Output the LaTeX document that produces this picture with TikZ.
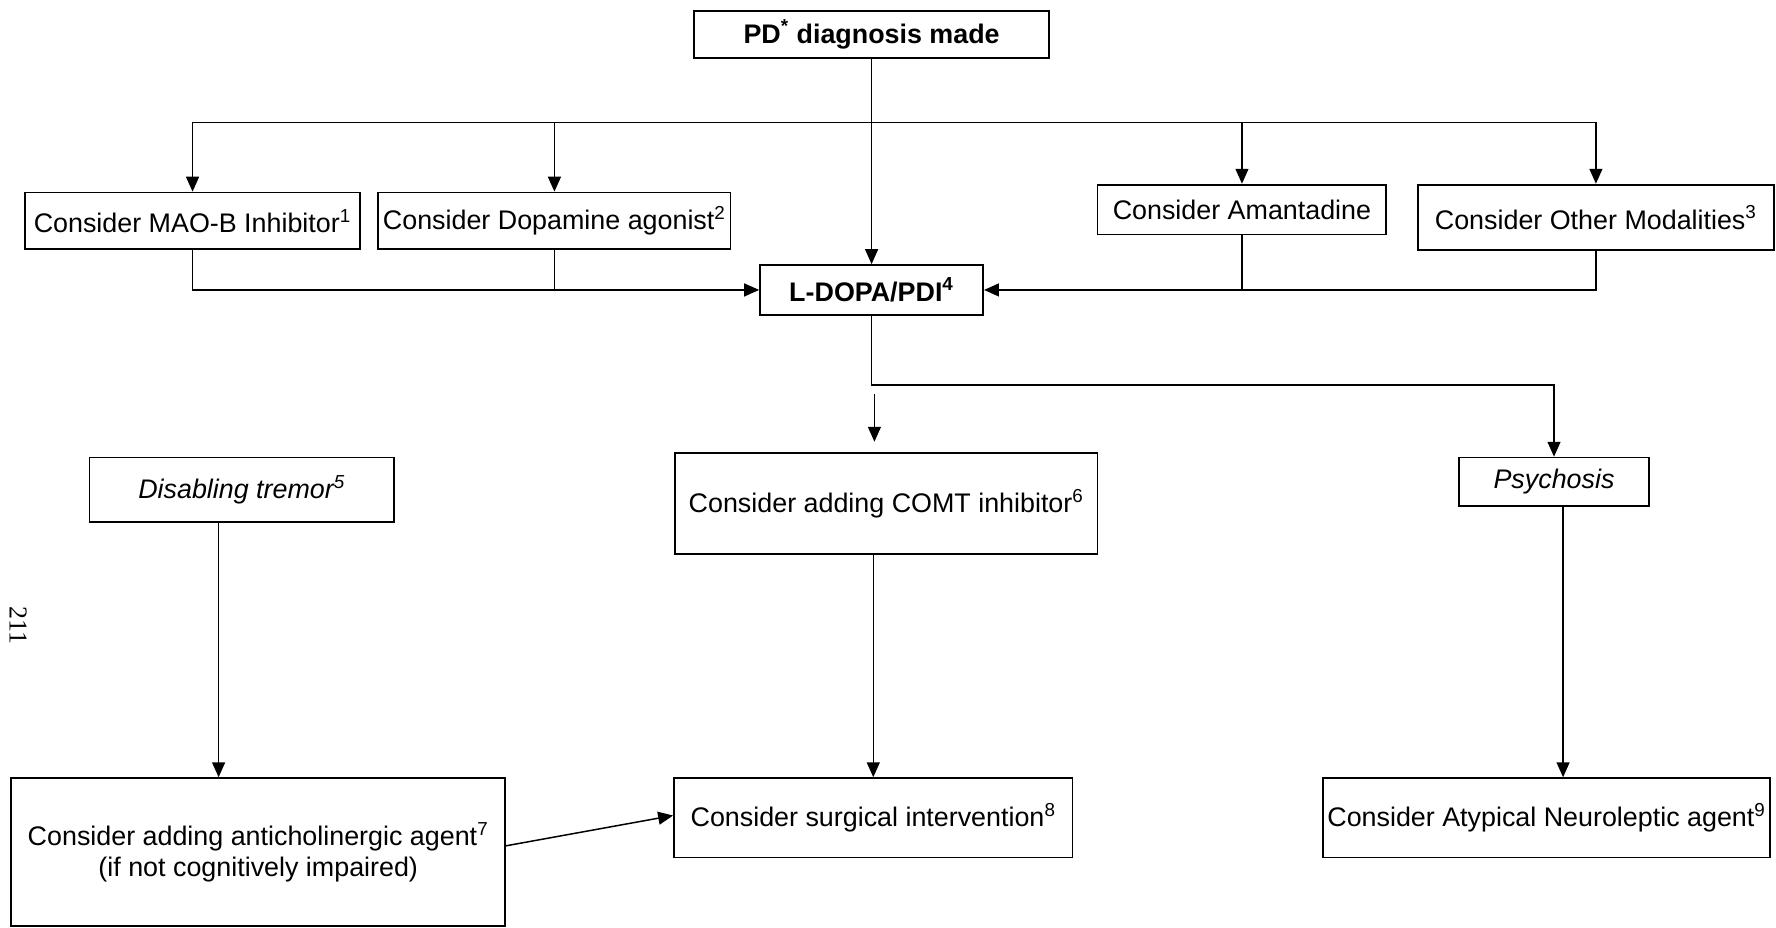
\documentclass[tikz,border=0pt]{standalone}
\usepackage{fontspec}
\setmainfont{Liberation Sans}
\newfontfamily\pagefont{Liberation Serif}
\usetikzlibrary{arrows.meta}

\begin{document}
\begin{tikzpicture}[x=0.02cm, y=-0.02cm,
	box/.style={draw, line width=0.9pt, inner sep=0pt, align=center, font=\fontsize{13.5}{15.5}\selectfont},
	link/.style={line width=0.75pt},
	arr/.style={line width=0.75pt, -{Triangle[length=7.5pt, width=6.5pt]}}]
	\useasboundingbox (0,0) rectangle (1568,818.5);
	% top row
	\node[box, minimum width=6.26cm, minimum height=0.82cm] (pd) at (769.5,30.5) {\textbf{PD\textsuperscript{*} diagnosis made}};
	\node[box, minimum width=5.92cm, minimum height=1.00cm] (mao) at (170,195) {Consider MAO-B Inhibitor\textsuperscript{1}};
	\node[box, minimum width=6.22cm, minimum height=1.00cm] (dopa) at (489.5,195) {Consider Dopamine agonist\textsuperscript{2}};
	\node[box, minimum width=5.10cm, minimum height=0.88cm] (amant) at (1096.5,185) {Consider Amantadine};
	\node[box, minimum width=6.28cm, minimum height=1.16cm] (other) at (1409,192) {Consider Other Modalities\textsuperscript{3}};
	\node[box, minimum width=3.94cm, minimum height=0.88cm] (ldopa) at (769.5,256) {\textbf{L-DOPA/PDI\textsuperscript{4}}};
	% middle row
	\node[box, minimum width=5.38cm, minimum height=1.14cm] (tremor) at (213.5,432.5) {\textit{Disabling tremor\textsuperscript{5}}};
	\node[box, minimum width=7.46cm, minimum height=1.78cm] (comt) at (782.5,444.5) {Consider adding COMT inhibitor\textsuperscript{6}};
	\node[box, minimum width=3.36cm, minimum height=0.86cm] (psy) at (1372,425.5) {\textit{Psychosis}};
	% bottom row
	\node[box, minimum width=8.72cm, minimum height=2.61cm] (anti) at (228,752.25) {Consider adding anticholinergic agent\textsuperscript{7}\\(if not cognitively impaired)};
	\node[box, minimum width=7.04cm, minimum height=1.40cm] (surg) at (771,722) {Consider surgical intervention\textsuperscript{8}};
	\node[box, minimum width=7.90cm, minimum height=1.40cm] (atyp) at (1365.5,722) {Consider Atypical Neuroleptic agent\textsuperscript{9}};
	\node[rotate=-90, font=\pagefont\fontsize{13}{15}\selectfont] (page) at (16,552) {211};
	% connectors
	\coordinate (top bus) at (770,108);
	\coordinate (split) at (770,340);
	\coordinate (comt from) at (772,348);
	\coordinate (comt to) at (772,390);
	\draw[arr] (pd) -- (ldopa);
	\draw[link] (top bus -| mao.north) -- (top bus -| other.north);
	\foreach \n in {mao,dopa,amant,other}{
		\draw[arr] (top bus -| \n.north) -- (\n.north);
	}
	\draw[arr] (mao.south) |- (ldopa.west);
	\draw[link] (dopa.south) -- (dopa.south |- ldopa.west);
	\draw[arr] (other.south) |- (ldopa.east);
	\draw[link] (amant.south) -- (amant.south |- ldopa.east);
	\draw[arr] (ldopa.south) -- (ldopa.south |- split) -| (psy.north);
	\draw[arr] (comt from) -- (comt to);
	\draw[arr] (surg.north |- comt.south) -- (surg.north);
	\draw[arr] ([xshift=-0.41cm]tremor.south) -- ([xshift=-0.41cm]tremor.south |- anti.north);
	\draw[arr] ([xshift=0.16cm]psy.south) -- ([xshift=0.16cm]psy.south |- atyp.north);
	\draw[arr] ([yshift=0.11cm]anti.east) -- ([yshift=0.04cm]surg.west);
\end{tikzpicture}
\end{document}
